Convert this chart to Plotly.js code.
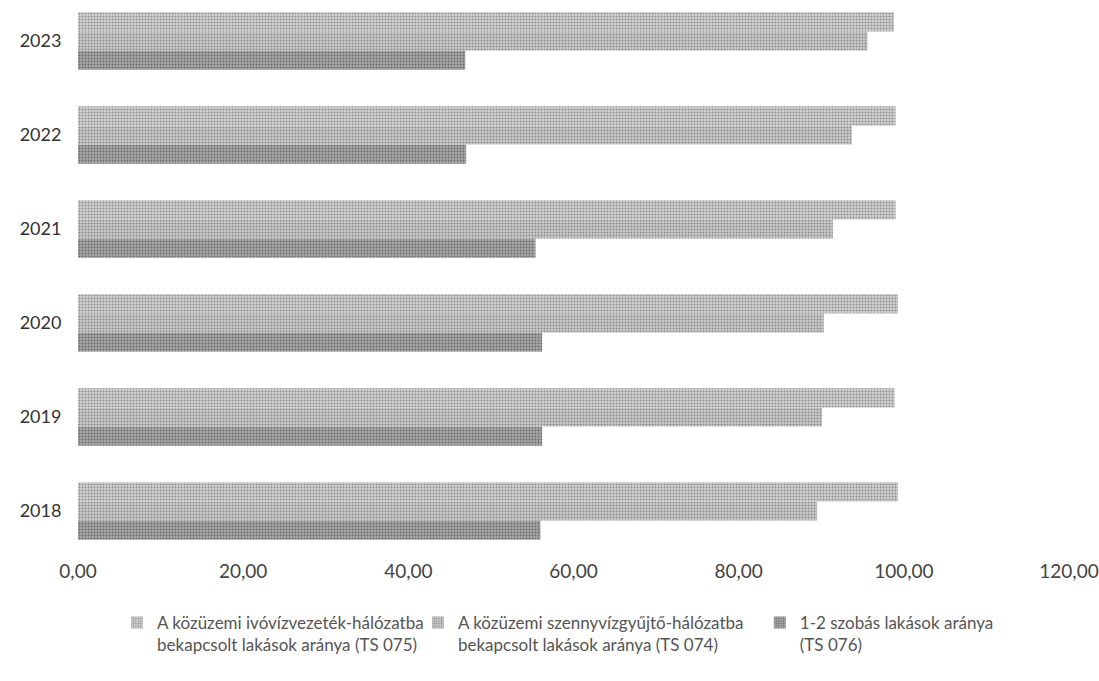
<!DOCTYPE html>
<html>
<head>
<meta charset="utf-8">
<script src="https://cdn.plot.ly/plotly-3.0.1.min.js"></script>
<style>html,body{margin:0;padding:0;background:#fff;}#chart{width:1099px;height:681px;}</style>
</head>
<body>
<div id="chart"></div>
<script>
const years = ['2018', '2019', '2020', '2021', '2022', '2023'];
const ivoviz = [99.3, 98.9, 99.3, 99.0, 99.0, 98.8];
const szennyviz = [89.5, 90.1, 90.3, 91.4, 93.7, 95.6];
const szobas = [56.0, 56.2, 56.2, 55.4, 47.0, 46.9];
const names = [
  'A közüzemi ivóvízvezeték-hálózatba<br>bekapcsolt lakások aránya (TS 075)',
  'A közüzemi szennyvízgyűjtő-hálózatba<br>bekapcsolt lakások aránya (TS 074)',
  '1-2 szobás lakások aránya<br>(TS 076)'
];
const xTicks = [0, 20, 40, 60, 80, 100, 120];

function pat(bg, fg) {
  return {color: bg, line: {width: 0}, pattern: {shape: '.', fgcolor: fg, bgcolor: bg, size: 3, solidity: 0.35}};
}

const traces = [
  {type: 'bar', orientation: 'h', y: years, x: szobas, name: names[2], legend: 'legend3', marker: pat('#a8a8a8', '#6a6a6a')},
  {type: 'bar', orientation: 'h', y: years, x: szennyviz, name: names[1], legend: 'legend2', marker: pat('#cacaca', '#8a8a8a')},
  {type: 'bar', orientation: 'h', y: years, x: ivoviz, name: names[0], legend: 'legend', marker: pat('#d2d2d2', '#8e8e8e')}
];

function leg(x) {
  return {
    orientation: 'h', x: x, xanchor: 'left', y: -0.084, yanchor: 'top',
    font: {size: 17, color: '#555', family: 'Lato, "Open Sans", sans-serif'},
    itemwidth: 30, valign: 'top', bgcolor: 'rgba(0,0,0,0)'
  };
}

const layout = {
  width: 1099, height: 681,
  margin: {l: 78, r: 30, t: 0, b: 123},
  paper_bgcolor: '#fff', plot_bgcolor: '#fff',
  font: {family: 'Lato, "Open Sans", sans-serif', color: '#444', size: 16},
  separators: ', ',
  barmode: 'group', bargap: 0.39, bargroupgap: 0,
  showlegend: true,
  hovermode: false,
  xaxis: {
    range: [0, 120], tickvals: xTicks, tickformat: '.2f',
    showgrid: false, zeroline: false, showline: false, ticks: '',
    tickfont: {size: 19, color: '#444'}
  },
  yaxis: {
    type: 'category', range: [-0.5, 5.436],
    showgrid: false, zeroline: false, showline: false, ticks: 'outside', ticklen: 12, tickcolor: 'rgba(0,0,0,0)',
    tickfont: {size: 18, color: '#333'}
  },
  legend: leg(0.0394),
  legend2: leg(0.343),
  legend3: leg(0.688)
};

Plotly.newPlot('chart', traces, layout, {displayModeBar: false, staticPlot: true});
</script>
</body>
</html>
